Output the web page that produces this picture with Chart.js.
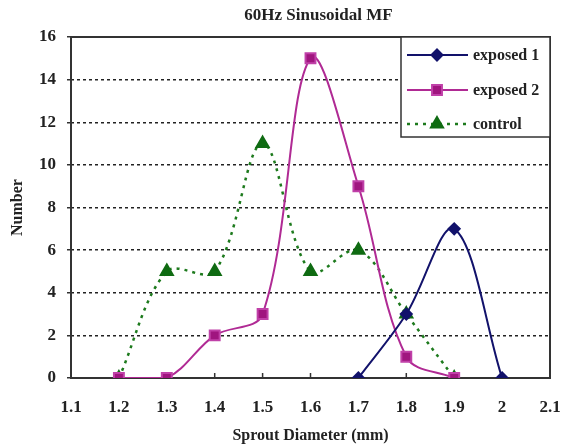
<!DOCTYPE html>
<html>
<head>
<meta charset="utf-8">
<script src="https://cdn.jsdelivr.net/npm/chart.js@4"></script>
<style>
  html, body { margin: 0; padding: 0; background: #fff; }
  #wrap { width: 562px; height: 445px; }
</style>
</head>
<body>
<div id="wrap"><canvas id="myChart" width="562" height="445"></canvas></div>
<script>
// chart data
const titleText = "60Hz Sinusoidal MF";
const xTitle = "Sprout Diameter (mm)";
const yTitle = "Number";

const diamE1 = [1.7, 1.8, 1.9, 2.0];
const exposed1 = [0, 3, 7, 0];

const diamE2 = [1.2, 1.3, 1.4, 1.5, 1.6, 1.7, 1.8, 1.9];
const exposed2 = [0, 0, 2, 3, 15, 9, 1, 0];

const diamCtl = [1.2, 1.3, 1.4, 1.5, 1.6, 1.7, 1.8, 1.9];
const control = [0, 5, 5, 11, 5, 6, 3, 0];

const xTickLabels = ["1.1", "1.2", "1.3", "1.4", "1.5", "1.6", "1.7", "1.8", "1.9", "2", "2.1"];
const yTickLabels = ["0", "2", "4", "6", "8", "10", "12", "14", "16"];

const serif = "'Liberation Serif', 'DejaVu Serif', serif";
const ink = "#222";

function toPoints(xs, ys) {
  return xs.map((x, i) => ({ x: x, y: ys[i] }));
}

// frame round the plot and small inward ticks on the x axis
const framePlugin = {
  id: "frame",
  beforeDatasetsDraw(chart) {
    const { ctx, chartArea: a, scales } = chart;
    ctx.save();
    ctx.strokeStyle = "#333";
    ctx.lineWidth = 2;
    ctx.strokeRect(a.left, a.top, a.right - a.left, a.bottom - a.top);
    ctx.lineWidth = 1.5;
    scales.x.ticks.forEach((t) => {
      const px = scales.x.getPixelForValue(t.value);
      if (px <= a.left + 1 || px >= a.right - 1) return;
      ctx.beginPath();
      ctx.moveTo(px, a.bottom);
      ctx.lineTo(px, a.bottom - 5);
      ctx.stroke();
    });
    ctx.restore();
  },
  afterDraw(chart) {
    const { ctx, chartArea: a } = chart;
    ctx.save();
    // title, a bit right of the plot centre like the original
    ctx.fillStyle = ink;
    ctx.font = "bold 17px " + serif;
    ctx.textAlign = "center";
    ctx.textBaseline = "middle";
    ctx.fillText(titleText, (a.left + a.right) / 2 + 8, 16);

    // legend box in the top right corner
    const bx = 401, by = a.top, bw = a.right - 401, bh = 100;
    ctx.fillStyle = "#fff";
    ctx.fillRect(bx, by, bw, bh);
    ctx.strokeStyle = "#333";
    ctx.lineWidth = 1.5;
    ctx.strokeRect(bx, by, bw, bh);

    const rows = [55, 90, 124];
    chart.data.datasets.forEach((ds, i) => {
      const y = rows[i];
      ctx.save();
      ctx.strokeStyle = ds.borderColor;
      ctx.lineWidth = ds.borderWidth;
      ctx.setLineDash(ds.borderDash || []);
      ctx.beginPath();
      ctx.moveTo(407, y);
      ctx.lineTo(468, y);
      ctx.stroke();
      ctx.setLineDash([]);
      ctx.fillStyle = ds.pointBackgroundColor;
      ctx.strokeStyle = ds.pointBorderColor;
      Chart.helpers.drawPoint(ctx, {
        pointStyle: ds.pointStyle,
        radius: ds.pointRadius,
        rotation: 0,
        borderWidth: 1
      }, 437, y);
      ctx.restore();
      ctx.fillStyle = ink;
      ctx.font = "bold 16px " + serif;
      ctx.textAlign = "left";
      ctx.textBaseline = "middle";
      ctx.fillText(ds.label, 473, y + 1);
    });
    ctx.restore();
  }
};

const ctx = document.getElementById("myChart");

new Chart(ctx, {
  type: "line",
  data: {
    datasets: [
      {
        label: "exposed 1",
        data: toPoints(diamE1, exposed1),
        borderColor: "#12126b",
        borderWidth: 2,
        pointStyle: "rectRot",
        pointRadius: 5.5,
        pointBackgroundColor: "#12126b",
        pointBorderColor: "#12126b",
        tension: 0.35,
        fill: false,
      },
      {
        label: "exposed 2",
        data: toPoints(diamE2, exposed2),
        borderColor: "#b02a94",
        borderWidth: 2,
        pointStyle: "rect",
        pointRadius: 7,
        pointBackgroundColor: "#a0157f",
        pointBorderColor: "#c040a8",
        tension: 0.35,
        fill: false,
      },
      {
        label: "control",
        data: toPoints(diamCtl, control),
        borderColor: "#1d7a1d",
        borderWidth: 2.5,
        borderDash: [3, 5],
        pointStyle: "triangle",
        pointRadius: 6.5,
        pointBackgroundColor: "#0f6b12",
        pointBorderColor: "#0f6b12",
        tension: 0.35,
        fill: false,
      },
    ],
  },
  options: {
    responsive: false,
    animation: false,
    devicePixelRatio: 1,
    layout: { padding: { top: 37, right: 12, bottom: 0, left: 0 } },
    plugins: {
      legend: { display: false },
      title: { display: false },
      tooltip: { enabled: false },
    },
    scales: {
      x: {
        type: "linear",
        min: 1.1,
        max: 2.1,
        afterFit: (scale) => {
          scale.height = 67;
          scale.paddingLeft = 0;
          scale.paddingRight = 0;
        },
        afterBuildTicks: (scale) => {
          scale.ticks = xTickLabels.map((l) => ({ value: parseFloat(l) }));
        },
        grid: { display: false, drawTicks: false },
        border: { display: false },
        ticks: {
          padding: 19,
          color: ink,
          font: { family: serif, size: 17, weight: "bold" },
          callback: (value, index) => xTickLabels[index],
          maxRotation: 0,
          autoSkip: false,
        },
        title: {
          display: true,
          text: xTitle,
          color: ink,
          font: { family: serif, size: 16, weight: "bold" },
          padding: { top: 0, bottom: 0 },
        },
      },
      y: {
        min: 0,
        max: 16,
        afterFit: (scale) => {
          scale.width = 71;
          scale.paddingTop = 0;
          scale.paddingBottom = 0;
        },
        afterBuildTicks: (scale) => {
          scale.ticks = yTickLabels.map((l) => ({ value: Number(l) }));
        },
        grid: {
          color: (c) => (c.tick && (c.tick.value === 0 || c.tick.value === 16) ? "rgba(0,0,0,0)" : "#222"),
          lineWidth: 1.5,
          tickColor: "#333",
          tickLength: 4,
          tickBorderDash: [],
        },
        border: { display: false, dash: [3, 3] },
        ticks: {
          padding: 11,
          color: ink,
          font: { family: serif, size: 17, weight: "bold" },
          callback: (value, index) => yTickLabels[index],
        },
        title: {
          display: true,
          text: yTitle,
          color: ink,
          font: { family: serif, size: 16, weight: "bold" },
          padding: { top: 8, bottom: 0 },
        },
      },
    },
  },
  plugins: [framePlugin],
});
</script>
</body>
</html>
